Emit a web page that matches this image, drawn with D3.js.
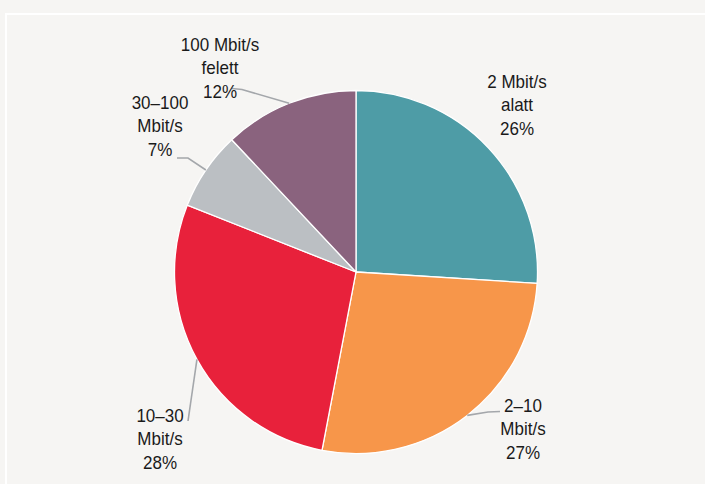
<!DOCTYPE html>
<html>
<head>
<meta charset="utf-8">
<script src="https://cdn.jsdelivr.net/npm/d3@7"></script>
<style>
  html, body { margin: 0; padding: 0; background: #f6f5f3; }
  svg { display: block; }
  .lbl { font-family: "Liberation Sans", Arial, sans-serif; font-size: 17px; fill: #1a1a1a; }
</style>
</head>
<body>
<div id="chart"></div>
<script>
// data
var categories = ["2 Mbit/s alatt", "2–10 Mbit/s", "10–30 Mbit/s", "30–100 Mbit/s", "100 Mbit/s felett"];
var values = [26, 27, 28, 7, 12];
var labelLines = [
  ["2 Mbit/s", "alatt", "26%"],
  ["2–10", "Mbit/s", "27%"],
  ["10–30", "Mbit/s", "28%"],
  ["30–100", "Mbit/s", "7%"],
  ["100 Mbit/s", "felett", "12%"]
];
var colors = ["#4e9ca6", "#f7964a", "#e8213b", "#bbbfc3", "#8a637e"];

// layout of labels: text centre x, first baseline y, leader polyline start (null = no leader)
var labelPos = [
  { x: 517, y: 88, lead: null },
  { x: 523, y: 412, lead: [[500, 411.5], [488, 412]] },
  { x: 160, y: 422, lead: [[188, 421]] },
  { x: 160, y: 109, lead: [[177, 158], [188, 158]] },
  { x: 220, y: 51, lead: [[232, 88.5], [242, 89.5]] }
];

var w = 705, h = 484;
var cx = 356, cy = 272, r = 181.5;
var lineH = 23.5;
var stretch = 1.1; // text in the original is a bit taller than plain Arial

var svg = d3.select("#chart")
  .append("svg")
  .attr("width", w)
  .attr("height", h);

// panel frame
svg.append("rect")
  .attr("x", 6)
  .attr("y", 14)
  .attr("width", w + 10)
  .attr("height", h + 10)
  .attr("fill", "#f6f5f3")
  .attr("stroke", "#ffffff")
  .attr("stroke-width", 2);

var pie = d3.pie().sort(null).value(function(d){ return d; });
var arcs = pie(values);

var arc = d3.arc().innerRadius(0).outerRadius(r);
var edge = d3.arc().innerRadius(r).outerRadius(r);

var g = svg.append("g")
  .attr("transform", "translate(" + cx + "," + cy + ")");

g.selectAll("path.slice")
  .data(arcs)
  .enter()
  .append("path")
  .attr("class", "slice")
  .attr("d", arc)
  .attr("fill", function(d, i){ return colors[i]; })
  .attr("stroke", "#ffffff")
  .attr("stroke-width", 1.3)
  .attr("stroke-linejoin", "round");

// leader lines
var line = d3.line();
arcs.forEach(function(d, i){
  var p = labelPos[i];
  if (!p.lead) return;
  var c = edge.centroid(d);
  var pts = p.lead.map(function(q){ return q; });
  pts.push([cx + c[0], cy + c[1]]);
  svg.append("path")
    .attr("d", line(pts))
    .attr("fill", "none")
    .attr("stroke", "#a4a7ab")
    .attr("stroke-width", 1.6);
});

// labels
labelLines.forEach(function(lines, i){
  var p = labelPos[i];
  var t = svg.append("text")
    .attr("class", "lbl")
    .attr("text-anchor", "middle")
    .attr("transform", "translate(" + p.x + "," + p.y + ") scale(1," + stretch + ")");
  lines.forEach(function(s, k){
    t.append("tspan")
      .attr("x", 0)
      .attr("y", k * lineH / stretch)
      .text(s);
  });
});
</script>
</body>
</html>
